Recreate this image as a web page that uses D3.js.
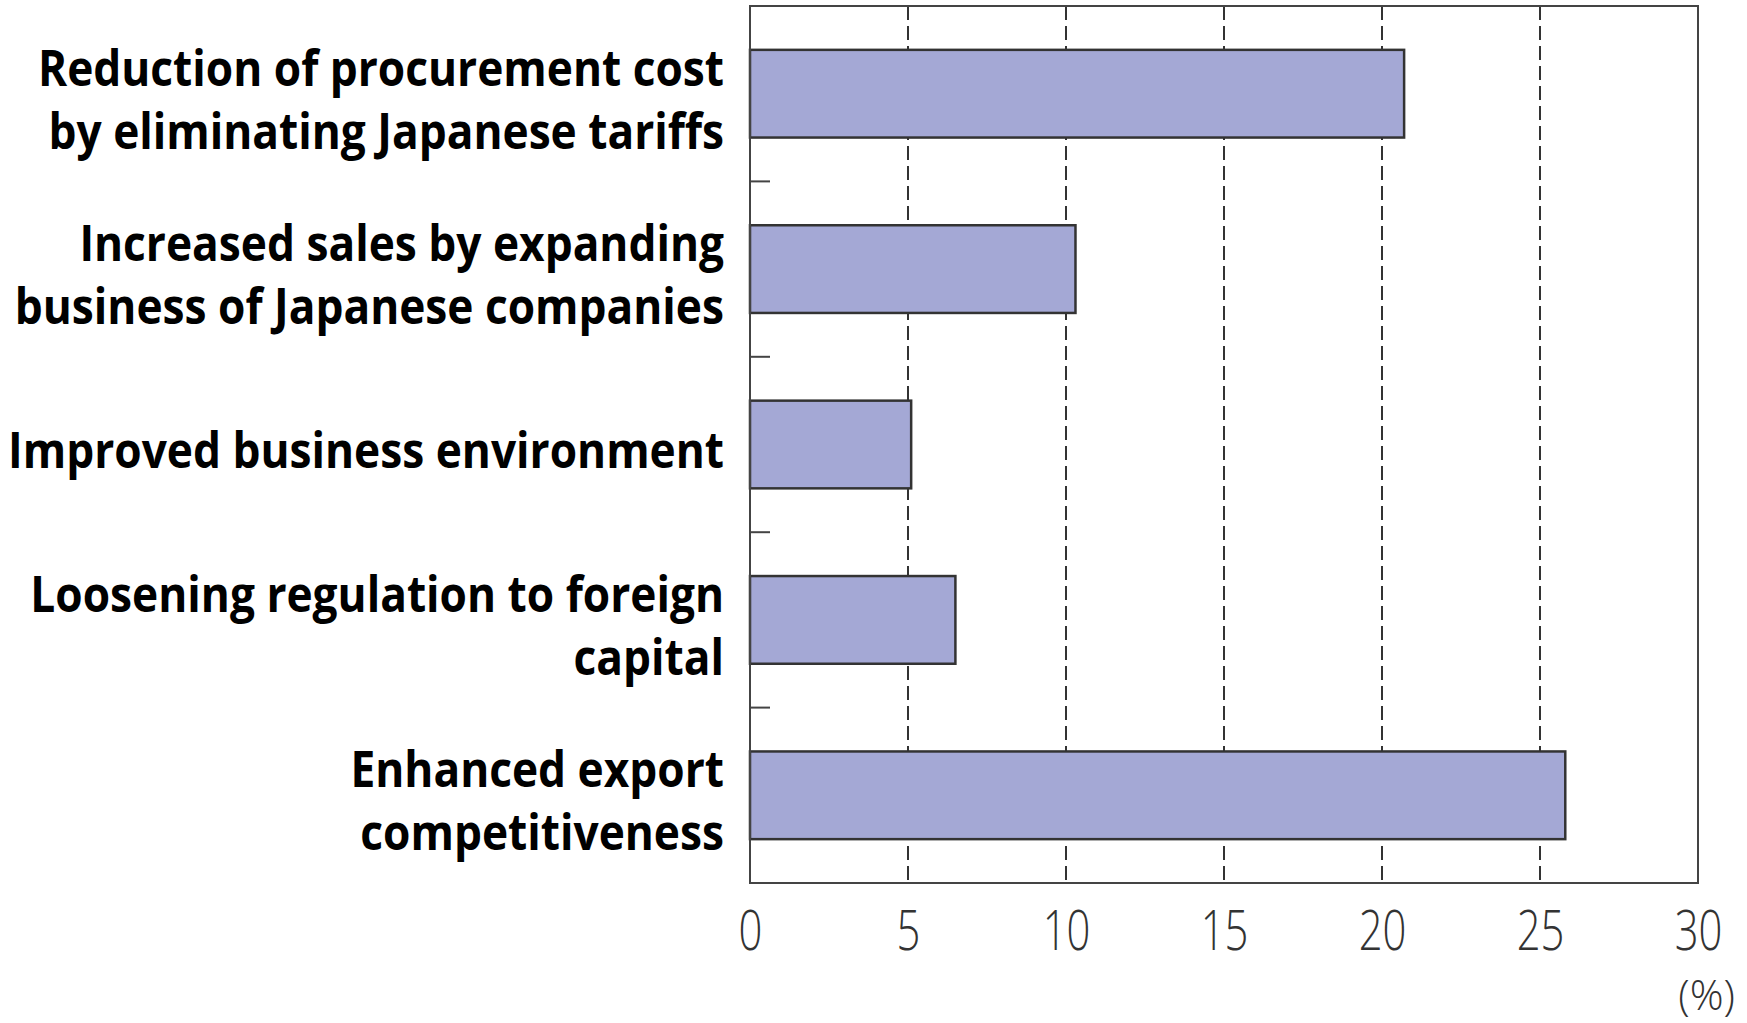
<!DOCTYPE html>
<html>
<head>
<meta charset="utf-8">
<script src="https://cdn.jsdelivr.net/npm/d3@7"></script>
<style>
  body { margin: 0; background: #fff; }
  .cat { font-family: "Open Sans", sans-serif; font-weight: 700; fill: #000; }
  .xt text { font-family: "Open Sans", sans-serif; font-weight: 300; fill: #333; }
</style>
</head>
<body>
<script>
// categories, top to bottom (line breaks as in the picture)
var categories = [
  "Reduction of procurement cost\nby eliminating Japanese tariffs",
  "Increased sales by expanding\nbusiness of Japanese companies",
  "Improved business environment",
  "Loosening regulation to foreign\ncapital",
  "Enhanced export\ncompetitiveness"
];
var values = [20.7, 10.3, 5.1, 6.5, 25.8];
var xTicks = [0, 5, 10, 15, 20, 25, 30];
var unitLabel = "(%)";

var W = 1747, H = 1023;
var svg = d3.select("body").append("svg").attr("width", W).attr("height", H);

var x = d3.scaleLinear().domain([0, 30]).range([750, 1698]);
var y = d3.scaleBand().domain(categories).range([6, 883])
  .paddingInner(0.5).paddingOuter(0.25);

// dashed grid
svg.append("g").selectAll("line")
  .data(xTicks.filter(d => d > 0 && d < 30))
  .join("line")
  .attr("x1", d => x(d)).attr("x2", d => x(d))
  .attr("y1", 6).attr("y2", 883)
  .attr("stroke", "#333").attr("stroke-width", 2)
  .attr("stroke-dasharray", "14,6");

// bars
svg.append("g").selectAll("rect")
  .data(categories)
  .join("rect")
  .attr("x", x(0))
  .attr("y", d => y(d))
  .attr("width", (d, i) => x(values[i]) - x(0))
  .attr("height", y.bandwidth())
  .attr("fill", "#a4a8d5")
  .attr("stroke", "#333").attr("stroke-width", 2.5);

// frame
svg.append("rect")
  .attr("x", 750).attr("y", 6)
  .attr("width", 948).attr("height", 877)
  .attr("fill", "none").attr("stroke", "#444").attr("stroke-width", 2);

// small ticks on the left axis between categories
var gap = y.step() * y.paddingInner() / 2;
svg.append("g").selectAll("line")
  .data(categories.slice(1))
  .join("line")
  .attr("x1", x(0)).attr("x2", x(0) + 20)
  .attr("y1", d => y(d) - gap).attr("y2", d => y(d) - gap)
  .attr("stroke", "#444").attr("stroke-width", 2);

// x axis labels
var xa = svg.append("g").attr("class", "xt")
  .attr("transform", "translate(0,883)")
  .call(d3.axisBottom(x).tickValues(xTicks).tickSize(0).tickPadding(28));
xa.select(".domain").remove();
xa.selectAll("text").attr("font-size", 55).attr("transform", "scale(0.76,1)");

svg.append("text")
  .attr("x", 1735).attr("y", 1010)
  .attr("text-anchor", "end")
  .attr("font-family", "Open Sans").attr("font-weight", 300)
  .attr("font-size", 42).attr("fill", "#333")
  .text(unitLabel);

// category labels
var lh = 63;
svg.append("g").selectAll("g")
  .data(categories)
  .join("g")
  .attr("transform", d => "translate(724," + (y(d) + y.bandwidth() / 2 + 6) + ") scale(0.885,1)")
  .each(function(d) {
    var lines = d.split("\n");
    var t = d3.select(this).append("text").attr("class", "cat")
      .attr("text-anchor", "end").attr("font-size", 50);
    lines.forEach(function(l, k) {
      t.append("tspan").attr("x", 0)
        .attr("y", (k - (lines.length - 1) / 2) * lh)
        .attr("dy", "0.35em")
        .text(l);
    });
  });
</script>
</body>
</html>
